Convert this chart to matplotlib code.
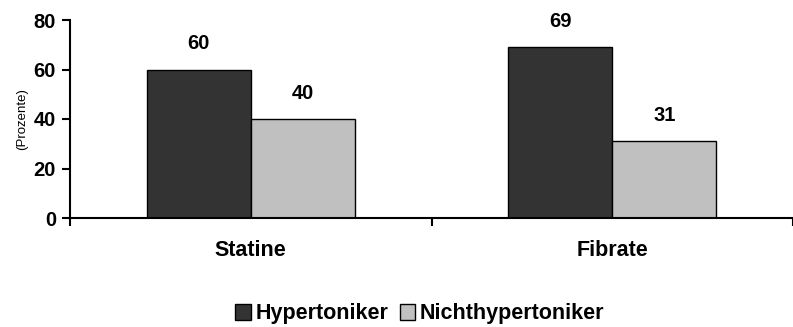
import matplotlib.pyplot as plt
import numpy as np

# Data
categories = ["Statine", "Fibrate"]
hypertoniker = [60, 69]
nichthypertoniker = [40, 31]
series_names = ["Hypertoniker", "Nichthypertoniker"]
y_ticks = [0, 20, 40, 60, 80]

plt.rcParams["font.family"] = ["Liberation Sans", "DejaVu Sans"]

fig = plt.figure(figsize=(7.93, 3.27), dpi=100)
ax = fig.add_axes([70 / 793, 1 - 218 / 327, 723 / 793, 198 / 327])

x = np.arange(len(categories))
width = 0.2875
b1 = ax.bar(x - width / 2, hypertoniker, width, color="#333333",
            edgecolor="black", linewidth=1.0, label=series_names[0])
b2 = ax.bar(x + width / 2, nichthypertoniker, width, color="#c0c0c0",
            edgecolor="black", linewidth=1.0, label=series_names[1])

for bars in (b1, b2):
    for rect in bars:
        h = rect.get_height()
        ax.annotate(f"{h:.0f}", (rect.get_x() + rect.get_width() / 2, h),
                    xytext=(0, 18.5), textcoords="offset points",
                    ha="center", va="center", fontsize=14.5, fontweight="bold")

# one category per 367 px, axis runs off the right edge
ax.set_xlim(-0.5, -0.5 + 723 / 367)
ax.set_ylim(0, 80)
ax.set_yticks(y_ticks)
ax.set_yticklabels([str(v) for v in y_ticks], fontsize=14.5, fontweight="bold")
ax.tick_params(axis="y", direction="out", length=6, width=1.5, pad=4)

# category labels without ticks, separators as minor ticks
ax.set_xticks(x)
ax.set_xticklabels(categories, fontsize=15.5, fontweight="bold")
ax.tick_params(axis="x", which="major", length=0, pad=16)
ax.set_xticks([-0.5, 0.5, 1.5], minor=True)
ax.tick_params(axis="x", which="minor", direction="out", length=6, width=1.5)

for side in ("top", "right"):
    ax.spines[side].set_visible(False)
for side in ("left", "bottom"):
    ax.spines[side].set_linewidth(1.5)

ax.set_ylabel("(Prozente)", fontsize=9.5, labelpad=4)

fig.legend(handles=[b1, b2], loc="center", bbox_to_anchor=(420 / 793, 1 - 314 / 327),
           ncol=2, frameon=False, handlelength=0.7, handleheight=0.7,
           handletextpad=0.25, columnspacing=0.5, prop={"weight": "bold", "size": 15.5})

fig.savefig("out.png", dpi=100)
